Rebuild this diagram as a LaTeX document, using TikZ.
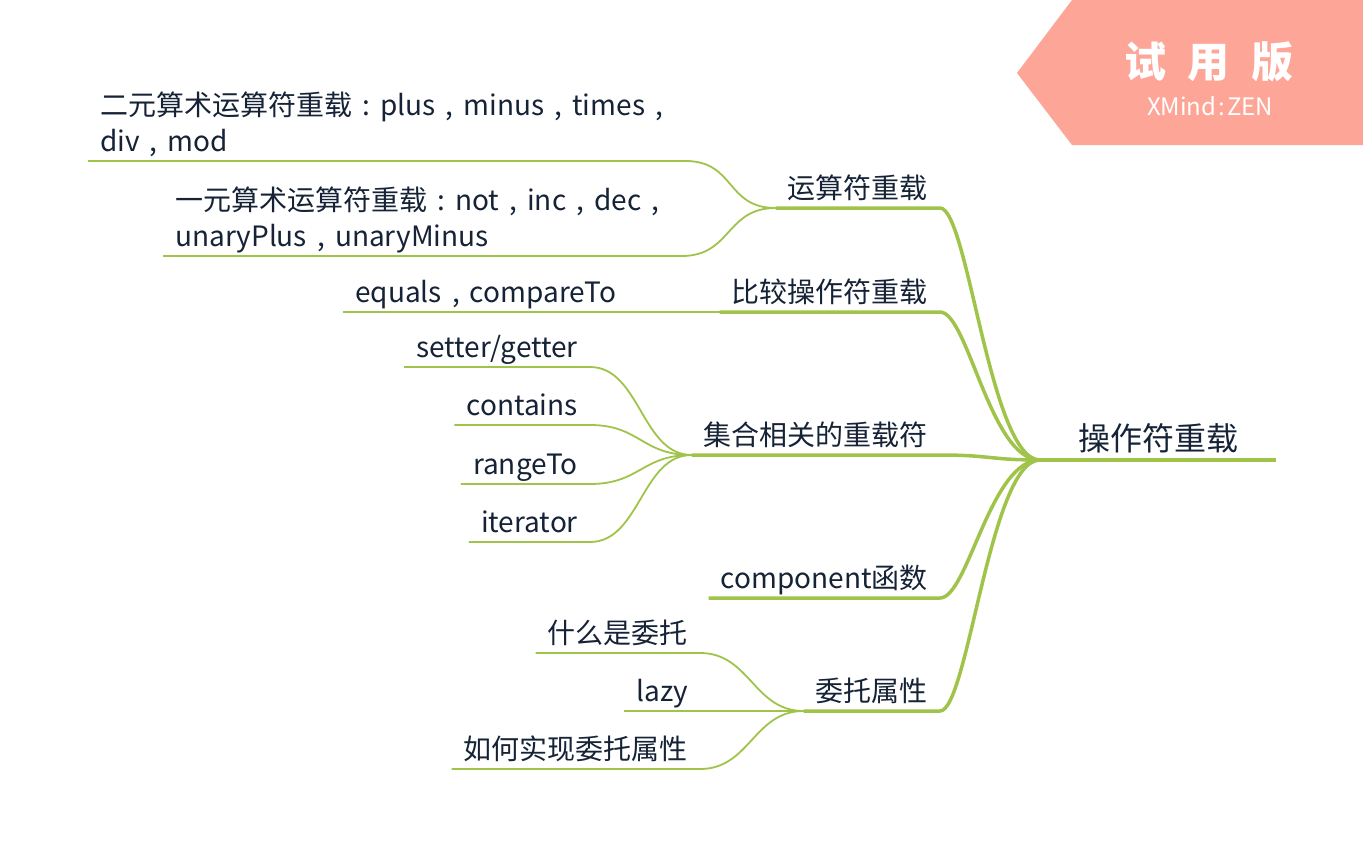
\documentclass[tikz,border=0pt]{standalone}
\usepackage{fontspec}
\setmainfont{Noto Sans CJK SC}
\newcommand\cm{\makebox[1em][c]{,}}
\newcommand\cl{\makebox[1em][c]{:}}
\definecolor{br}{RGB}{160,196,74}
\definecolor{tx}{RGB}{22,35,55}
\definecolor{badge}{RGB}{253,165,151}
\tikzset{
  topic/.style={text=tx, font=\fontsize{28}{36}\selectfont, inner xsep=12pt, inner ysep=9pt, text depth=0pt, align=left},
  rootnode/.style={topic, font=\fontsize{32}{38}\selectfont, minimum width=236pt, inner xsep=0pt},
  lvone/.style={draw=br, line width=3.5pt},
  lvtwo/.style={draw=br, line width=1.8pt},
  badgetext/.style={text=white, inner sep=0pt}
}
\newcommand\subbranch[2]{\draw[lvtwo] (#1.south west) -- (#1.south east) .. controls +(50,0) and +(-50,0) .. (#2.south west);}
\newcommand\mainbranch[1]{\draw[lvone] (#1.south west) -- (#1.south east) .. controls +(28,0) and +(-50,0) .. (root.south west);}
\begin{document}
\begin{tikzpicture}[x=1pt,y=-1pt]
\useasboundingbox (0,0) rectangle (1363,859);
\fill[white] (0,0) rectangle (1363,859);
% badge
\fill[badge] (1072,0) -- (1363,0) -- (1363,145) -- (1072,145) -- (1017,73) -- cycle;
\node[badgetext, font=\fontsize{42}{42}\selectfont\bfseries] (trial) at (1209,62) {试\hspace{22pt}用\hspace{22pt}版};
\node[badgetext, font=\fontsize{24}{24}\selectfont] (zen) at (1210,106) {XMind\hspace{2pt}:\hspace{2pt}ZEN};
% root
\node[rootnode, anchor=south west] (root) at (1040,460) {操作符重载};
% level one
\node[topic, anchor=south east] (ops) at (940,208) {运算符重载};
\node[topic, anchor=south east] (cmp) at (940,312) {比较操作符重载};
\node[topic, anchor=south east] (col) at (940,455) {集合相关的重载符};
\node[topic, anchor=south east] (comp) at (940,598) {component函数};
\node[topic, anchor=south east] (dele) at (940,711) {委托属性};
% level two
\node[topic, anchor=south west] (bin) at (88,161) {二元算术运算符重载\cl plus\cm minus\cm times\cm\\div\cm mod};
\node[topic, anchor=south west] (una) at (163,256) {一元算术运算符重载\cl not\cm inc\cm dec\cm\\unaryPlus\cm unaryMinus};
\node[topic, anchor=south west] (eq) at (343,312) {equals\cm compareTo};
\node[topic, anchor=south east] (setg) at (590,367) {setter/getter};
\node[topic, anchor=south east] (cont) at (590,425) {contains};
\node[topic, anchor=south east] (rng) at (590,484) {rangeTo};
\node[topic, anchor=south east] (iter) at (590,542) {iterator};
\node[topic, anchor=south east] (what) at (700,653) {什么是委托};
\node[topic, anchor=south east] (lazy) at (700,711) {lazy};
\node[topic, anchor=south east] (how) at (700,769) {如何实现委托属性};
% connectors level two
\subbranch{bin}{ops}
\subbranch{una}{ops}
\draw[lvtwo] (eq.south west) -- (cmp.south west);
\subbranch{setg}{col}
\subbranch{cont}{col}
\subbranch{rng}{col}
\subbranch{iter}{col}
\subbranch{what}{dele}
\subbranch{lazy}{dele}
\subbranch{how}{dele}
% connectors level one
\mainbranch{ops}
\mainbranch{cmp}
\draw[lvone] (col.south west) -- (col.south east) .. controls +(50,0) and +(-50,0) .. (root.south west);
\mainbranch{comp}
\mainbranch{dele}
\draw[lvone] (root.south west) -- (root.south east);
\end{tikzpicture}
\end{document}
